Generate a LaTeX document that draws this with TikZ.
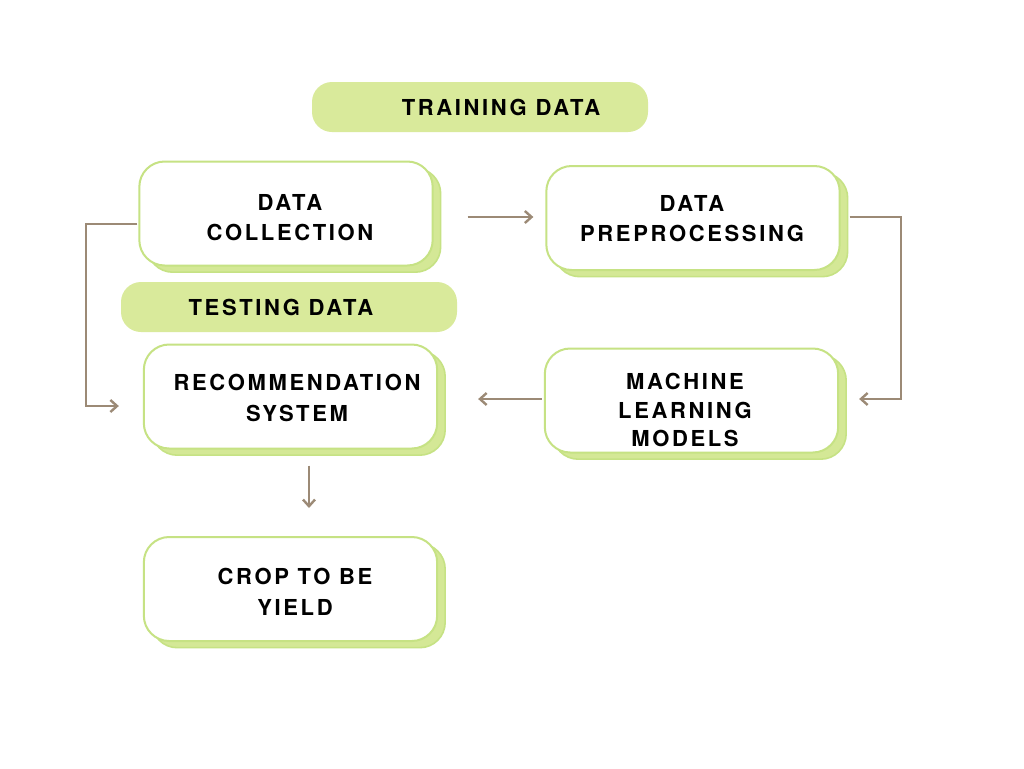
\documentclass[tikz,border=0pt]{standalone}
\usepackage{fontspec}
\setmainfont{TeX Gyre Heros}
\newfontfamily\boxfont[LetterSpace=12]{TeX Gyre Heros}
\usetikzlibrary{shadows,calc,arrows.meta}
\definecolor{gborder}{RGB}{198,226,132}
\definecolor{gshadow}{RGB}{212,232,150}
\definecolor{gpill}{RGB}{217,234,155}
\definecolor{arr}{RGB}{156,138,118}
\begin{document}
\begin{tikzpicture}[x=0.75pt,y=-0.75pt,
  stepbox/.style={draw=gborder,line width=1.5pt,fill=white,rounded corners=19pt,
    minimum width=220pt,minimum height=78pt,
    copy shadow={shadow xshift=6pt,shadow yshift=-5pt,fill=gshadow,draw=gborder,line width=1.2pt}},
  txt/.style={align=center,inner sep=0pt,font=\boxfont\bfseries\fontsize{16.5}{23}\selectfont},
  pill/.style={fill=gpill,draw=none,rounded corners=15pt,minimum width=252pt,minimum height=37.5pt},
  conn/.style={draw=arr,line width=2.2pt,-{Straight Barb[length=5pt,width=9pt,line width=1.8pt]}}]
\useasboundingbox (0,0) rectangle (1024,768);
\fill[white] (0,0) rectangle (1024,768);

\node[pill] (train) at (480,107) {};
\node[txt] (traint) at (501,107) {TRAINING DATA};
\node[stepbox] (dc) at (286,213.5) {};
\node[txt] (dct) at (290,217.5) {DATA\\COLLECTION};
\node[stepbox] (dp) at (693,218) {};
\node[txt] (dpt) at (692,218.5) {DATA\\PREPROCESSING};
\node[pill] (test) at (289,307) {};
\node[txt] (testt) at (281,307) {TESTING DATA};
\node[stepbox] (rs) at (290.5,396.5) {};
\node[txt] (rst) at (297,398) {RECOMMENDATION\\SYSTEM};
\node[stepbox] (ml) at (691.5,400.5) {};
\node[txt,font=\boxfont\bfseries\fontsize{16.5}{21.7}\selectfont] (mlt) at (685,410) {MACHINE\\LEARNING\\MODELS};
\node[stepbox] (crop) at (290.5,589) {};
\node[txt] (cropt) at (295,592) {CROP TO BE\\YIELD};

\coordinate (a1) at ($(dc.east)+(34,3.5)$);
\coordinate (a2) at ($(dp.west)+(-12,-1)$);
\draw[conn] (a1) -- (a2);

\coordinate (b1) at ($(dp.east)+(9,-1)$);
\coordinate (b2) at ($(ml.east)+(20,-1.5)$);
\draw[conn] (b1) -- (901,217) |- (b2);

\coordinate (m1) at ($(ml.west)+(-2,-1.5)$);
\coordinate (m2) at ($(rs.east)+(40,2.5)$);
\draw[conn] (m1) -- (m2);

\coordinate (c1) at ($(dc.west)+(-1,10.5)$);
\coordinate (c2) at ($(rs.west)+(-24,9.5)$);
\draw[conn] (c1) -- (86,224) |- (c2);

\coordinate (d1) at ($(rs.south)+(18.5,16)$);
\coordinate (d2) at ($(crop.north)+(18.5,-28)$);
\draw[conn] (d1) -- (d2);
\end{tikzpicture}
\end{document}
